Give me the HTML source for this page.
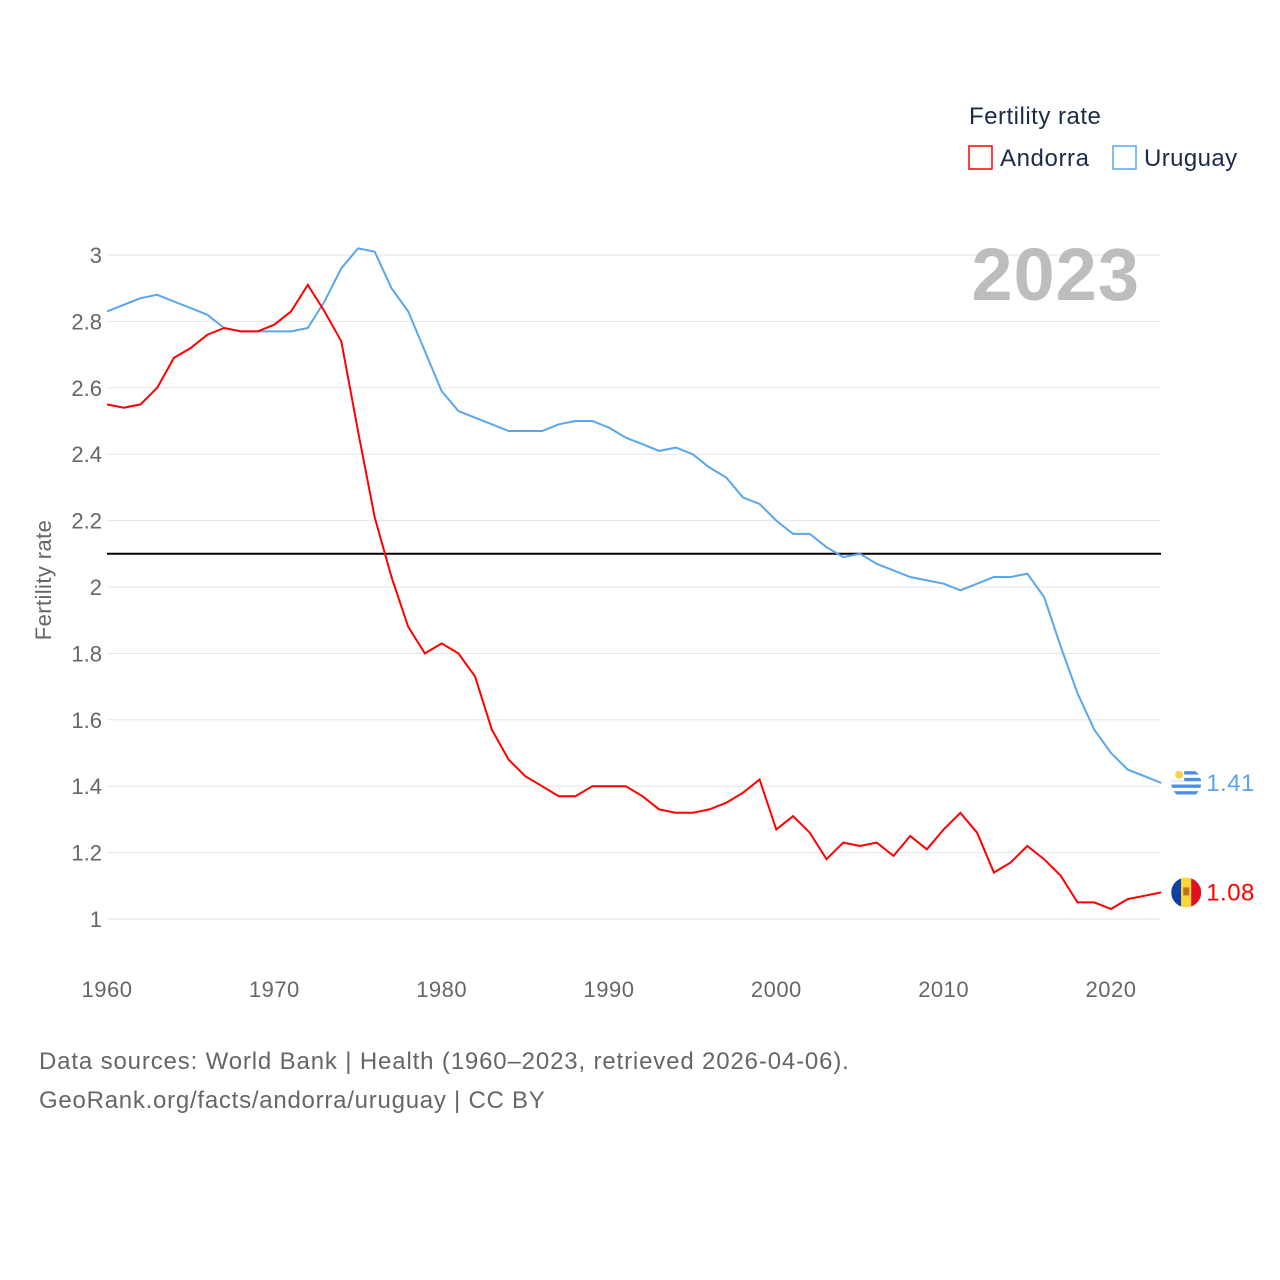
<!DOCTYPE html>
<html><head><meta charset="utf-8"><style>
body{margin:0;background:#fff;font-family:"Liberation Sans",sans-serif}
svg{display:block}
</style></head><body>
<svg id="chart" width="1280" height="1280" viewBox="0 0 1280 1280">
<defs>
<clipPath id="cu"><circle cx="1186" cy="782" r="15"/></clipPath>
<clipPath id="ca"><circle cx="1186" cy="892" r="15"/></clipPath>
</defs>
<g id="grid"></g>
<g id="yticks" font-size="22" fill="#666" text-anchor="end"></g>
<g id="xticks" font-size="22" fill="#666" text-anchor="middle" letter-spacing="0.5"></g>
<text transform="translate(51,580) rotate(-90)" text-anchor="middle" font-size="22" fill="#666" letter-spacing="0.4">Fertility rate</text>
<text x="1140" y="300" text-anchor="end" font-size="74" font-weight="bold" fill="#bdbdbd" letter-spacing="1">2023</text>
<g>
<text x="969" y="124" font-size="24" fill="#1a2b4a" letter-spacing="0.5">Fertility rate</text>
<rect x="969" y="146" width="23" height="23" fill="none" stroke="#f00" stroke-width="1.5"/>
<text x="1000" y="166" font-size="24" fill="#1a2b4a" letter-spacing="0.6">Andorra</text>
<rect x="1113" y="146" width="23" height="23" fill="none" stroke="#5aa6ee" stroke-width="1.5"/>
<text x="1144" y="166" font-size="24" fill="#1a2b4a" letter-spacing="0.4">Uruguay</text>
</g>
<g id="series"></g>
<text x="39" y="1069" font-size="24" fill="#666" letter-spacing="0.85">Data sources: World Bank | Health (1960–2023, retrieved 2026-04-06).</text>
<text x="39" y="1108" font-size="24" fill="#666" letter-spacing="0.75">GeoRank.org/facts/andorra/uruguay | CC BY</text>
</svg>
<script>
const years = [];
for (let y = 1960; y <= 2023; y++) years.push(y);
const andorra = [2.55,2.54,2.55,2.60,2.69,2.72,2.76,2.78,2.77,2.77,2.79,2.83,2.91,2.83,2.74,2.47,2.21,2.03,1.88,1.80,1.83,1.80,1.73,1.57,1.48,1.43,1.40,1.37,1.37,1.40,1.40,1.40,1.37,1.33,1.32,1.32,1.33,1.35,1.38,1.42,1.27,1.31,1.26,1.18,1.23,1.22,1.23,1.19,1.25,1.21,1.27,1.32,1.26,1.14,1.17,1.22,1.18,1.13,1.05,1.05,1.03,1.06,1.07,1.08];
const uruguay = [2.83,2.85,2.87,2.88,2.86,2.84,2.82,2.78,2.77,2.77,2.77,2.77,2.78,2.86,2.96,3.02,3.01,2.90,2.83,2.71,2.59,2.53,2.51,2.49,2.47,2.47,2.47,2.49,2.50,2.50,2.48,2.45,2.43,2.41,2.42,2.40,2.36,2.33,2.27,2.25,2.20,2.16,2.16,2.12,2.09,2.10,2.07,2.05,2.03,2.02,2.01,1.99,2.01,2.03,2.03,2.04,1.97,1.82,1.68,1.57,1.50,1.45,1.43,1.41];
const yTicks = [1,1.2,1.4,1.6,1.8,2,2.2,2.4,2.6,2.8,3];
const xTicks = [1960,1970,1980,1990,2000,2010,2020];
const refValue = 2.1;

const NS = "http://www.w3.org/2000/svg";
const X = yr => 107 + (yr - 1960) * (1111 - 107) / 60;
const Y = v => 919 - (v - 1) * (919 - 255) / 2;
function mk(tag, attrs, parent) {
  const e = document.createElementNS(NS, tag);
  for (const k in attrs) e.setAttribute(k, attrs[k]);
  parent.appendChild(e);
  return e;
}
const grid = document.getElementById('grid');
const yt = document.getElementById('yticks');
yTicks.forEach(v => {
  const l = mk('line', {x1: 107, x2: 1161, y1: Y(v), y2: Y(v), stroke: '#e6e6e6', 'stroke-width': 1}, grid);
  
  
  const t = mk('text', {x: 102, y: Y(v) + 8}, yt);
  t.textContent = String(v);
  
  
});
const xt = document.getElementById('xticks');
xTicks.forEach(v => {
  const t = mk('text', {x: X(v), y: 997}, xt);
  t.textContent = String(v);
  
  
});
const s = document.getElementById('series');
const ref = mk('line', {x1: 107, x2: 1161, y1: Y(refValue), y2: Y(refValue), stroke: '#000', 'stroke-width': 2}, s);


function series(vals, color, name, flag) {
  const d = vals.map((v, i) => (i ? 'L' : 'M') + X(years[i]).toFixed(1) + ',' + Y(v).toFixed(1)).join('');
  const p = mk('path', {d: d, fill: 'none', stroke: color, 'stroke-width': 2}, s);
  
  
  const last = vals[vals.length - 1];
  const cx = X(years[years.length - 1]) + 25, cy = Y(last);
  const g = mk('g', {}, s);
  
  
  flag(g, cx, cy);
  const t = mk('text', {x: cx + 20, y: cy + 8, 'font-size': 24, fill: color, 'letter-spacing': 0.5}, s);
  t.textContent = last.toFixed(2);
  
  
}
function uyFlag(g, cx, cy) {
  const c = mk('circle', {cx: cx, cy: cy, r: 15, fill: '#fff'}, g);
  const grp = mk('g', {}, g);
  const cp = mk('clipPath', {id: 'cuy'}, g);
  mk('circle', {cx: cx, cy: cy, r: 15}, cp);
  grp.setAttribute('clip-path', 'url(#cuy)');
  for (let i = 0; i < 4; i++) mk('rect', {x: cx - 15, y: cy - 15 + 3.33 * (2 * i + 1), width: 30, height: 3.33, fill: '#4a90e2'}, grp);
  mk('rect', {x: cx - 15, y: cy - 15, width: 13, height: 13, fill: '#fff'}, grp);
  mk('circle', {cx: cx - 7, cy: cy - 8, r: 4, fill: '#f8d24a'}, grp);
}
function adFlag(g, cx, cy) {
  const grp = mk('g', {}, g);
  const cp = mk('clipPath', {id: 'cad'}, g);
  mk('circle', {cx: cx, cy: cy, r: 15}, cp);
  grp.setAttribute('clip-path', 'url(#cad)');
  mk('rect', {x: cx - 15, y: cy - 15, width: 10, height: 30, fill: '#1040a0'}, grp);
  mk('rect', {x: cx - 5, y: cy - 15, width: 10, height: 30, fill: '#fdd835'}, grp);
  mk('rect', {x: cx + 5, y: cy - 15, width: 10, height: 30, fill: '#e01020'}, grp);
  mk('rect', {x: cx - 3, y: cy - 5, width: 6, height: 8, fill: '#c07020'}, grp);
}
series(uruguay, '#5aa6ee', 'uruguay', uyFlag);
series(andorra, '#ff0000', 'andorra', adFlag);
</script>
</body></html>
